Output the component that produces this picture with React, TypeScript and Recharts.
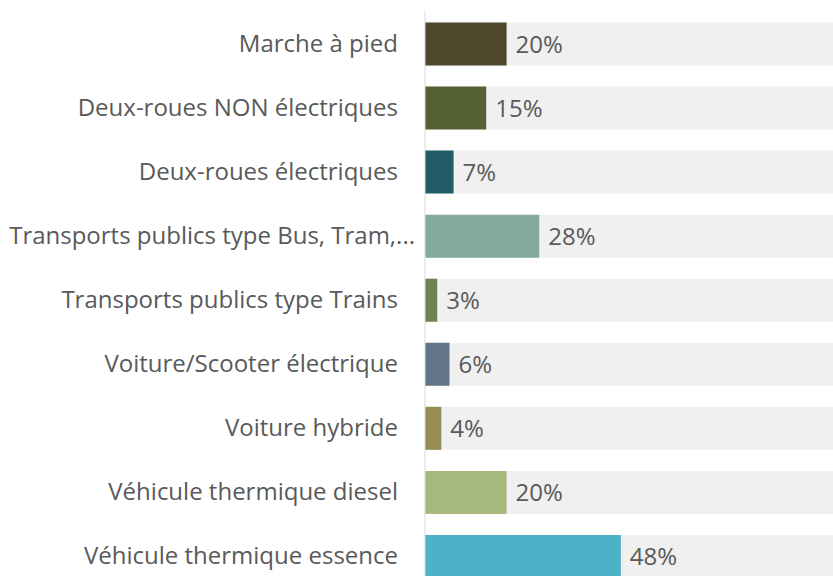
import { BarChart, Bar, XAxis, YAxis, Cell, LabelList } from 'recharts'

const categories = [
    'Marche à pied',
    'Deux-roues NON électriques',
    'Deux-roues électriques',
    'Transports publics type Bus, Tram,...',
    'Transports publics type Trains',
    'Voiture/Scooter électrique',
    'Voiture hybride',
    'Véhicule thermique diesel',
    'Véhicule thermique essence',
]
const shares = [20, 15, 7, 28, 3, 6, 4, 20, 48]
const colors = ['#4F472B', '#556135', '#215C68', '#82AB9B', '#717F55', '#627487', '#978C52', '#A8B97E', '#4BB2C7']

const data = categories.map((name, i) => ({ name, value: shares[i] }))

const font = "'Open Sans', 'Noto Sans', sans-serif"

// truncated labels ("...") hang a bit further right, like in the original
const CategoryTick = ({ x, y, payload }: any) => {
    const truncated = String(payload.value).endsWith('...')
    return (
        <text
            x={x + (truncated ? 17 : 0)}
            y={y}
            dy="0.355em"
            textAnchor="end"
            fill="#595959"
            fontSize={24}
            fontFamily={font}
        >
            {payload.value}
        </text>
    )
}

export default function App() {
    return (
        <div style={{ position: 'absolute', left: 0, top: 0, width: 833, height: 576, overflow: 'hidden', background: '#fff' }}>
            <BarChart
                width={833}
                height={588}
                data={data}
                layout="vertical"
                margin={{ top: 11.5, right: 0, bottom: 0, left: 0 }}
                barCategoryGap={21}
            >
                <XAxis type="number" domain={[0, 100]} hide />
                <YAxis
                    type="category"
                    dataKey="name"
                    width={425}
                    tickLine={false}
                    axisLine={{ stroke: '#D9D9D9' }}
                    tickMargin={21}
                    tick={<CategoryTick />}
                    interval={0}
                />
                <Bar dataKey="value" barSize={43} background={{ fill: '#F0F0F0' }} isAnimationActive={false}>
                    {data.map((d, i) => (
                        <Cell key={d.name} fill={colors[i]} />
                    ))}
                    <LabelList
                        dataKey="value"
                        position="right"
                        offset={9}
                        formatter={(v: any) => `${v}%`}
                        style={{ fill: '#595959', fontSize: 24, fontFamily: font }}
                    />
                </Bar>
            </BarChart>
        </div>
    )
}
